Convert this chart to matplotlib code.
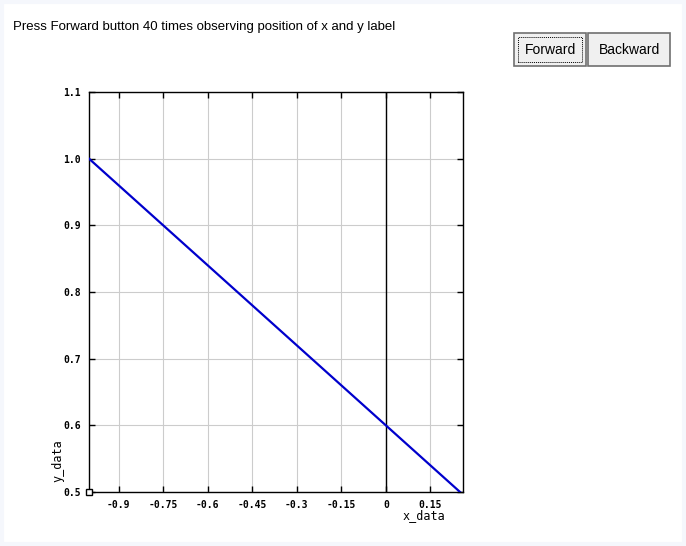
import matplotlib
matplotlib.use('Agg')
import matplotlib.pyplot as plt
from matplotlib.patches import Rectangle
import numpy as np

# data for the line
x_data = [-1.0, 0.25]
y_data = [1.0, 0.5]
x_ticks = [-0.9, -0.75, -0.6, -0.45, -0.3, -0.15, 0, 0.15]
x_tick_labels = ['-0.9', '-0.75', '-0.6', '-0.45', '-0.3', '-0.15', '0', '0.15']
y_ticks = [0.5, 0.6, 0.7, 0.8, 0.9, 1.0, 1.1]
y_tick_labels = ['0.5', '0.6', '0.7', '0.8', '0.9', '1.0', '1.1']
title_text = 'Press Forward button 40 times observing position of x and y label'
button_labels = ['Forward', 'Backward']

fig = plt.figure(figsize=(6.86, 5.46), dpi=100)
fig.patch.set_facecolor('white')
# pale frame round the window
fig.patches.append(Rectangle((2/686, 2/546), 682/686, 542/546, transform=fig.transFigure,
                             facecolor='none', edgecolor='#f5f7fc', linewidth=3))

ax = fig.add_axes([89/686, 1-492/546, 374/686, 400/546])
ax.set_zorder(3)
ax.plot(x_data, y_data, color='#0000cc', linewidth=1.6, zorder=3)
ax.set_xlim(-1.0, 0.26)
ax.set_ylim(0.5, 1.1)
ax.axvline(0, color='black', linewidth=1.0, zorder=2)
ax.grid(True, color='#cccccc', linewidth=0.8)
ax.set_xticks(x_ticks)
ax.set_xticklabels(x_tick_labels)
ax.set_yticks(y_ticks)
ax.set_yticklabels(y_tick_labels)
ax.tick_params(direction='in', length=4, width=1, top=True, right=True,
               labelsize=7, pad=6)
for lbl in ax.get_xticklabels() + ax.get_yticklabels():
    lbl.set_family('DejaVu Sans Mono')
    lbl.set_fontweight('bold')
for s in ax.spines.values():
    s.set_linewidth(1.0)

# small square at the origin corner
ax.plot([-1.0], [0.5], marker='s', markersize=5, markerfacecolor='white',
        markeredgecolor='black', markeredgewidth=1, clip_on=False, zorder=5)

fig.text(424/686, 1-516/546, 'x_data', ha='center', va='center',
         family='DejaVu Sans Mono', fontsize=8.5)
fig.text(58/686, 1-461/546, 'y_data', ha='center', va='center', rotation=90,
         family='DejaVu Sans Mono', fontsize=8.5)

fig.text(13/686, 1-27/546, title_text, ha='left', va='center',
         family='Liberation Sans', fontsize=9.5)

# buttons
btn_boxes = [(514, 33, 72, 33), (588, 33, 82, 33)]
for (bx, by, bw, bh), name in zip(btn_boxes, button_labels):
    fig.patches.append(Rectangle((bx/686, 1-(by+bh)/546), bw/686, bh/546,
                                 transform=fig.transFigure, facecolor='#f0f0f0',
                                 edgecolor='#707070', linewidth=1.2))
    fig.text((bx+bw/2)/686, 1-(by+bh/2)/546, name, ha='center', va='center',
             family='Liberation Sans', fontsize=10)
# dotted focus border on Forward
fig.patches.append(Rectangle((518/686, 1-62/546), 64/686, 25/546,
                             transform=fig.transFigure, facecolor='none',
                             edgecolor='black', linewidth=0.7, linestyle=(0, (1, 1))))

fig.savefig('out.png', dpi=100)
